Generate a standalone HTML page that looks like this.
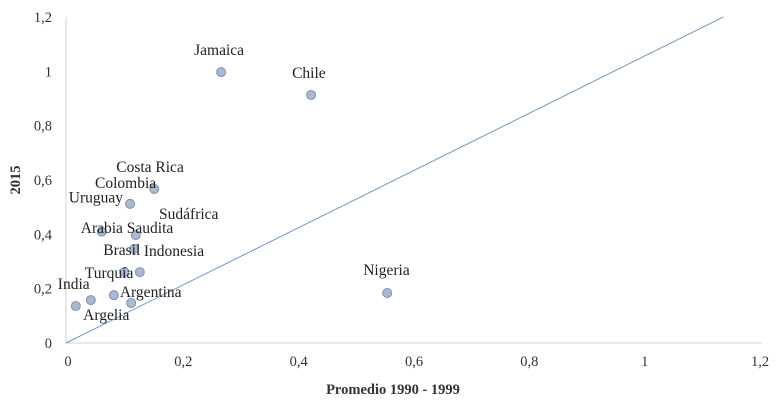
<!DOCTYPE html>
<html><head><meta charset="utf-8"><style>
body{margin:0;background:#fff}
svg{display:block;font-family:"Liberation Serif",serif}
</style></head><body>
<svg id="c" width="784" height="406">
<line x1="66" y1="17" x2="66" y2="343" stroke="#d0d0d0"/>
<line x1="66" y1="343" x2="762" y2="343" stroke="#d0d0d0"/>
<g id="ticks"></g>
<line id="ref" stroke="#6f97c4" stroke-width="1"/>
<g id="pts"></g>
<text x="20" y="180" transform="rotate(-90 20 180)" text-anchor="middle" font-weight="bold" font-size="14.5" fill="#333">2015</text>
<text x="393" y="394" text-anchor="middle" font-weight="bold" font-size="14.5" fill="#333">Promedio 1990 - 1999</text>
</svg>
<script>
const countries=["Jamaica","Chile","Nigeria","Costa Rica","Colombia","Uruguay","Arabia Saudita","Sudáfrica","Brasil","Indonesia","Turquía","India","Argentina","Argelia"];
const xVals=[0.269,0.425,0.557,0.153,0.111,0.062,0.121,0.118,0.101,0.128,0.017,0.043,0.083,0.113];
const yVals=[0.997,0.913,0.184,0.567,0.512,0.410,0.397,0.346,0.261,0.261,0.136,0.158,0.176,0.147];
const xTicks=[0,0.2,0.4,0.6,0.8,1,1.2];
const yTicks=[0,0.2,0.4,0.6,0.8,1,1.2];
const tickLabels=["0","0,2","0,4","0,6","0,8","1","1,2"];
const refLine=[[0,0],[1.14,1.2]];
// label offsets (style)
const lab=[[-27,-17],[-19,-17],[-24,-18],[-38,-17],[-35,-16],[-33,-29],[-55,-2],[25,-30],[-21,-17],[4,-16],[9,-28],[-33,-11],[6,2],[-48,17]];
const X=v=>66+v*576.7, Y=v=>343-v*271.7;
const ns="http://www.w3.org/2000/svg";
const tg=document.getElementById('ticks');
xTicks.forEach((t,i)=>{const e=document.createElementNS(ns,'text');


e.setAttribute('x',X(t)+2);e.setAttribute('y',366);e.setAttribute('text-anchor','middle');e.setAttribute('font-size','14.5');e.setAttribute('fill','#333');e.textContent=tickLabels[i];tg.appendChild(e);});
yTicks.forEach((t,i)=>{const e=document.createElementNS(ns,'text');


e.setAttribute('x',52);e.setAttribute('y',Y(t)+5);e.setAttribute('text-anchor','end');e.setAttribute('font-size','14.5');e.setAttribute('fill','#333');e.textContent=tickLabels[i];tg.appendChild(e);});
const r=document.getElementById('ref');
r.setAttribute('x1',X(refLine[0][0]));r.setAttribute('y1',Y(refLine[0][1]));r.setAttribute('x2',X(refLine[1][0]));r.setAttribute('y2',Y(refLine[1][1]));
const pg=document.getElementById('pts');
countries.forEach((c,i)=>{const px=X(xVals[i]),py=Y(yVals[i]);
const d=document.createElementNS(ns,'circle');


d.setAttribute('cx',px);d.setAttribute('cy',py);d.setAttribute('r',4.5);d.setAttribute('fill','#a9b9cf');d.setAttribute('stroke','#7d92b0');pg.appendChild(d);
const t=document.createElementNS(ns,'text');


t.setAttribute('x',px+lab[i][0]);t.setAttribute('y',py+lab[i][1]);t.setAttribute('font-size','15.5');t.setAttribute('fill','#222');t.textContent=c;pg.appendChild(t);});
</script>
</body></html>
